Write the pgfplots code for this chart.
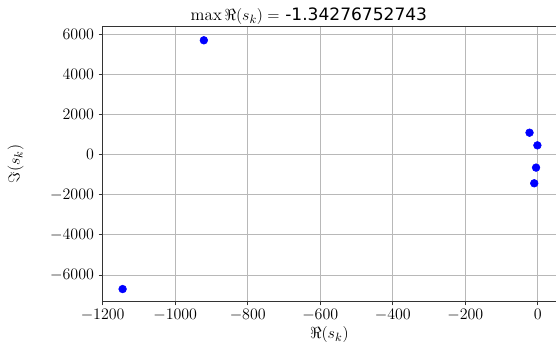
\documentclass[border=0pt]{standalone}
\usepackage{fontspec}
\usepackage{pgfplots}
\pgfplotsset{compat=1.18}
\newfontfamily\dejavu{DejaVu Sans}
\definecolor{gridgray}{HTML}{B8B8B8}
\begin{document}
\begin{tikzpicture}
\useasboundingbox (0pt,0pt) rectangle (417pt,264pt);
\begin{axis}[
  at={(77.0pt,38.0pt)}, anchor=south west,
  scale only axis,
  width=340pt, height=206pt,
  xmin=-1200, xmax=50,
  ymin=-7313, ymax=6380,
  xtick={-1200,-1000,-800,-600,-400,-200,0},
  ytick={-6000,-4000,-2000,0,2000,4000,6000},
  scaled ticks=false,
  /pgf/number format/1000 sep={},
  tick pos=left,
  tick align=outside,
  major tick length=3pt,
  grid=major,
  grid style={gridgray, line width=0.6pt},
  axis line style={line width=0.7pt, black!80},
  tick style={line width=0.7pt, black!80},
  ticklabel style={font=\fontsize{12.5}{14}\selectfont},
  label style={font=\fontsize{12.5}{14}\selectfont},
  title style={font=\fontsize{12.8}{14}\selectfont, at={(0.455,1)}, anchor=south, yshift=-8pt},
  title={$\max\Re(s_k) = $ {\dejavu -1.34276752743}},
  xlabel={$\Re(s_k)$},
  ylabel={$\Im(s_k)$},
  xlabel style={yshift=2pt},
  ylabel style={yshift=13pt},
  xticklabel style={yshift=1pt},
]
\addplot[only marks, mark=*, mark size=2.9pt, color=blue, mark options={fill=blue, draw=blue}]
coordinates {
(-921,5701)
(-1145,-6701)
(-23,1094)
(-1.34276752743,463)
(-5,-647)
(-10,-1428)
};
\end{axis}
\end{tikzpicture}
\end{document}
